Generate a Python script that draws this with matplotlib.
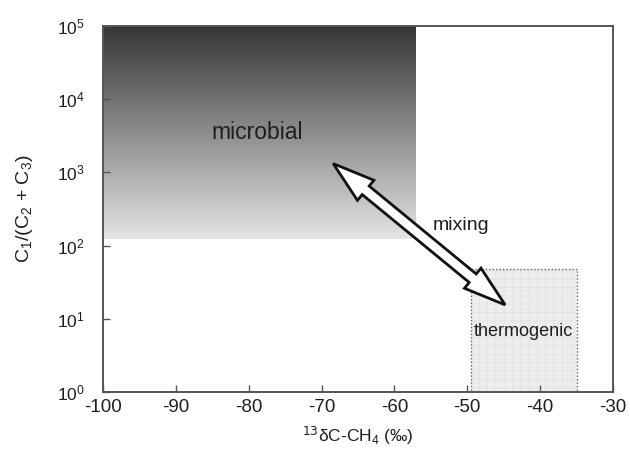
import numpy as np
import matplotlib.pyplot as plt
from matplotlib.patches import Rectangle, Polygon
from matplotlib.transforms import IdentityTransform

plt.rcParams['font.family'] = ['Liberation Sans', 'DejaVu Sans']
plt.rcParams['mathtext.fontset'] = 'custom'
plt.rcParams['mathtext.rm'] = 'Liberation Sans'
plt.rcParams['mathtext.default'] = 'regular'
plt.rcParams['hatch.linewidth'] = 0.5

# axis ranges / ticks
x_ticks = [-100, -90, -80, -70, -60, -50, -40, -30]
y_exponents = [0, 1, 2, 3, 4, 5]

# source fields
microbial_x = [-100, -57]
microbial_y = [122, 1e5]
thermo_x = [-49.5, -35]
thermo_y = [1, 48]

# mixing arrow end points
mix_start = (-68.4, 10 ** 3.12)
mix_end = (-44.8, 15.5)

fig = plt.figure(figsize=(6.3, 4.62), dpi=100)
ax = fig.add_axes([0.1635, 0.1515, 0.8095, 0.7922])
ax.set_yscale('log')
ax.set_xlim(x_ticks[0], x_ticks[-1])
ax.set_ylim(10.0 ** y_exponents[0], 10.0 ** y_exponents[-1])

# microbial gradient box (dark top -> light bottom, linear in log space)
n = 300
yedges = np.logspace(np.log10(microbial_y[0]), np.log10(microbial_y[1]), n + 1)
shade = np.linspace(0.89, 0.21, n)
ax.pcolormesh(microbial_x, yedges, shade[:, None], cmap='gray', vmin=0, vmax=1,
              shading='flat', zorder=1, rasterized=True)

# thermogenic box
ax.add_patch(Rectangle((thermo_x[0], thermo_y[0]), thermo_x[1] - thermo_x[0],
                       thermo_y[1] - thermo_y[0], facecolor='#ededed',
                       edgecolor='#e0e0e0', hatch='++', linewidth=0, zorder=1))
ax.add_patch(Rectangle((thermo_x[0], thermo_y[0]), thermo_x[1] - thermo_x[0],
                       thermo_y[1] - thermo_y[0], facecolor='none',
                       edgecolor='#666666', linestyle=(0, (1, 1.5)), linewidth=1, zorder=2))

# hollow double-headed arrow, built in pixel space from the data end points
p0 = ax.transData.transform(mix_start)
p1 = ax.transData.transform(mix_end)
d = p1 - p0
L = np.hypot(*d)
u = d / L
v = np.array([-u[1], u[0]])
hl, hw, sw = 42, 13, 5.5
pts = [p0,
       p0 + u * hl + v * hw, p0 + u * hl + v * sw,
       p1 - u * hl + v * sw, p1 - u * hl + v * hw,
       p1,
       p1 - u * hl - v * hw, p1 - u * hl - v * sw,
       p0 + u * hl - v * sw, p0 + u * hl - v * hw]
ax.add_patch(Polygon(pts, closed=True, facecolor='white', edgecolor='#111111',
                     linewidth=2, joinstyle='miter', transform=IdentityTransform(), zorder=4))

# labels
ax.text(-78.8, 10 ** 3.54, 'microbial', fontsize=16.5, ha='center', va='center', color='#1e1e1e', zorder=5)
ax.text(-50.8, 10 ** 2.27, 'mixing', fontsize=14, ha='center', va='center', color='#1e1e1e', zorder=5)
ax.text(-42.3, 10 ** 0.83, 'thermogenic', fontsize=13, ha='center', va='center', color='#1e1e1e', zorder=5)

# axes styling
ax.set_xticks(x_ticks)
ax.set_xticklabels([str(t) for t in x_ticks])
ax.set_yticks([10.0 ** e for e in y_exponents])
ax.set_yticklabels(['$10^{%d}$' % e for e in y_exponents])
ax.minorticks_off()
ax.tick_params(axis='x', direction='in', length=5, width=1, color='#555555',
               labelsize=13.5, pad=5, labelcolor='#1e1e1e')
ax.tick_params(axis='y', direction='in', length=5, width=1, color='#555555',
               labelsize=12.5, pad=13, labelcolor='#1e1e1e')
for s in ax.spines.values():
    s.set_color('#555555')
    s.set_linewidth(1.4)
    s.set_zorder(6)

ax.set_xlabel(r'$^{\mathsf{13}}$δC-CH$_4$ (‰)', fontsize=12.5, color='#1e1e1e', labelpad=6)
ax.set_ylabel('C$_1$/(C$_2$ + C$_3$)', fontsize=14, color='#1e1e1e', labelpad=16)

fig.savefig('out.png', dpi=100)
